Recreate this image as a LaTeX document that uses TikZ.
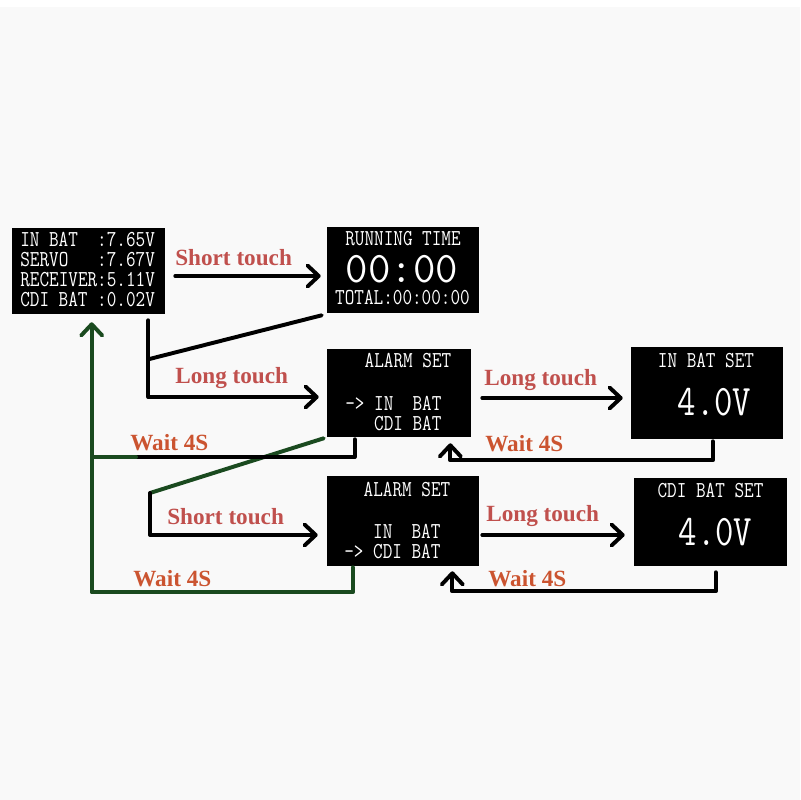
\documentclass[tikz,border=0pt]{standalone}
\usepackage{fontspec}
\usepackage{xcolor}
\usepackage{tikz}
\usetikzlibrary{arrows.meta}
\usetikzlibrary{positioning, calc}

\newfontfamily\lcd[FakeStretch=0.82]{Latin Modern Mono}
\newfontfamily\lcdbig{Latin Modern Mono}
\newfontfamily\lblfont{Liberation Serif}

\definecolor{bgcol}{HTML}{F9F9F9}
\definecolor{touchred}{HTML}{C0504D}
\definecolor{waitred}{HTML}{CB5430}
\definecolor{backgreen}{HTML}{1A4A1F}

\tikzset{
  screen/.style={fill=black, draw=none, inner sep=0pt},
  lcdtxt/.style={text=white, inner sep=0pt, text height=0.62em, text depth=0.02em, font=\lcd\fontsize{16.2}{18}\selectfont},
  lcdbigtxt/.style={lcdtxt, font=\lcdbig\fontsize{31}{34}\selectfont},
  lcdsettxt/.style={lcdtxt, font=\lcd\fontsize{31}{34}\selectfont},
  touchlbl/.style={text=touchred, inner sep=0pt, anchor=base west, font=\lblfont\bfseries\fontsize{16.5}{18}\selectfont},
  waitlbl/.style={touchlbl, text=waitred},
  wire/.style={line width=2.8pt, line cap=round, line join=round},
  flow/.style={wire, -{Straight Barb[length=8pt,width=15pt,round]}},
  backwire/.style={wire, draw=backgreen},
  backflow/.style={flow, draw=backgreen},
}

\begin{document}
\begin{tikzpicture}[x=0.025cm, y=-0.025cm]
  \useasboundingbox (0,0) rectangle (800,800);
  \fill[bgcol] (0,0) rectangle (800,800);
  \fill[white] (0,0) rectangle (800,7);

  % screens
  \node[screen, minimum width=3.825cm, minimum height=2.15cm] (main) at (88.5,271) {};
  \node[screen, minimum width=3.8cm, minimum height=2.15cm] (run) at (403,270) {};
  \node[screen, minimum width=3.6cm, minimum height=2.2cm] (alarmIn) at (399,393) {};
  \node[screen, minimum width=3.8cm, minimum height=2.3cm] (setIn) at (707,393) {};
  \node[screen, minimum width=3.8cm, minimum height=2.25cm] (alarmCdi) at (403,521) {};
  \node[screen, minimum width=3.825cm, minimum height=2.2cm] (setCdi) at (710.5,522) {};

  % main voltages
  \node[lcdtxt, anchor=base west] (main1) at (20,246.7) {IN~BAT~~:7.65V};
  \node[lcdtxt, anchor=base west] (main2) at (20,266.5) {SERVO~~~:7.67V};
  \node[lcdtxt, anchor=base west] (main3) at (20,286.3) {RECEIVER:5.11V};
  \node[lcdtxt, anchor=base west] (main4) at (20,306) {CDI~BAT~:0.02V};

  % running time
  \node[lcdtxt, anchor=base] (run1) at (403,245.7) {RUNNING~TIME};
  \node[lcdbigtxt, anchor=base] (run2) at (402,282) {00:00};
  \node[lcdtxt, anchor=base] (run3) at (402.5,304) {TOTAL:00:00:00};

  % alarm set, IN BAT selected
  \node[lcdtxt, anchor=base] (alarmIn1) at (408,367) {ALARM~SET};
  \node[lcdtxt, anchor=base west] (alarmIn2) at (345,410) {->~IN~~BAT};
  \node[lcdtxt, anchor=base west] (alarmIn3) at (345,430) {~~~CDI~BAT};

  % alarm set, CDI BAT selected
  \node[lcdtxt, anchor=base] (alarmCdi1) at (407,496) {ALARM~SET};
  \node[lcdtxt, anchor=base west] (alarmCdi2) at (344,538) {~~~IN~~BAT};
  \node[lcdtxt, anchor=base west] (alarmCdi3) at (344,558) {->~CDI~BAT};

  % set screens
  \node[lcdtxt, anchor=base] (setIn1) at (706,367) {IN~BAT~SET};
  \node[lcdsettxt, anchor=base] (setIn2) at (714.5,415) {4.0V};
  \node[lcdtxt, anchor=base] (setCdi1) at (710.5,497) {CDI~BAT~SET};
  \node[lcdsettxt, anchor=base] (setCdi2) at (715.5,545) {4.0V};

  % labels
  \node[touchlbl] (lblShortRun) at (175,265) {Short touch};
  \node[touchlbl] (lblLongIn) at (175,383) {Long touch};
  \node[waitlbl] (lblWaitIn) at (130,450) {Wait 4S};
  \node[touchlbl] (lblShortCdi) at (167,524) {Short touch};
  \node[waitlbl] (lblWaitCdi) at (133,586) {Wait 4S};
  \node[touchlbl] (lblLongSetIn) at (484,385) {Long touch};
  \node[waitlbl] (lblWaitSetIn) at (485,451) {Wait 4S};
  \node[touchlbl] (lblLongSetCdi) at (486,521) {Long touch};
  \node[waitlbl] (lblWaitSetCdi) at (488,586) {Wait 4S};

  \coordinate (joinRun) at ($(main.south east)+(-17,45)$);
  \coordinate (joinWait) at (136,457);
  \coordinate (joinShort) at (150,493);

  % forward moves
  \draw[flow] ($(main.east)+(10,5)$) -- ($(run.west)+(-6,6)$);
  \draw[flow] ($(main.south east)+(-17,6)$) |- ($(alarmIn.west)+(-8,4)$);
  \draw[wire] ($(run.south west)+(-5,2)$) -- (joinRun);
  \draw[flow] ($(alarmIn.east)+(11,5)$) -- ($(setIn.west)+(-8,5)$);
  \draw[backwire] ($(alarmIn.south west)+(-3,1)$) -- (joinShort);
  \draw[flow] (joinShort) |- ($(alarmCdi.west)+(-9,14)$);
  \draw[flow] ($(alarmCdi.east)+(3,14)$) -- ($(setCdi.west)+(-9,13)$);

  % back moves after 4 s
  \draw[flow] ($(setIn.south west)+(82,2)$) -- ++(0,19) -| ($(alarmIn.south east)+(-21,6)$);
  \draw[flow] ($(setCdi.south west)+(82,6)$) -- ++(0,19) -| ($(alarmCdi.south east)+(-27,5)$);
  \draw[wire] ($(alarmIn.south west)+(28,2)$) |- (joinWait);
  \draw[backwire] (joinWait) -- (92,457);
  \draw[backflow] ($(alarmCdi.south west)+(26,1)$) -- ++(0,25) -| ($(main.south west)+(80,8)$);
\end{tikzpicture}
\end{document}
